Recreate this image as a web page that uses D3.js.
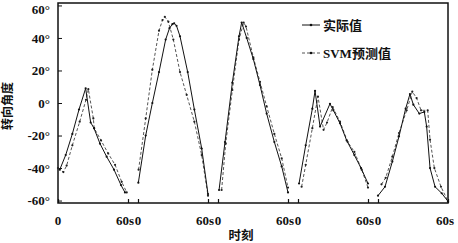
<!DOCTYPE html>
<html><head><meta charset="utf-8">
<script src="https://cdn.jsdelivr.net/npm/d3@7"></script>
<style>
body{margin:0;background:#fff;}
svg{display:block;}
.num{font-family:"Liberation Serif","Times New Roman",serif;font-weight:bold;font-size:13px;fill:#111;}
.cjk{font-family:"Liberation Serif","Noto Sans CJK SC",serif;font-weight:700;font-size:12.5px;fill:#111;}
</style></head>
<body>
<svg id="c" width="458" height="243"></svg>
<script>
// ---- data (time in s, angle in degrees) ----
const yTicks = [-60, -40, -20, 0, 20, 40, 60];
const segTicks = [0, 60];
const seriesNames = ["实际值", "SVM预测值"];

const actual1 = [[1.5,-41],[6.6,-32],[12.3,-19],[18,-4],[23.7,9],[28,-12],[30.9,-15.6],[36,-25],[41.7,-33],[48,-41],[54,-50.5],[57.4,-55]];
const pred1   = [[0,-40],[4.6,-42.5],[7.4,-38.5],[12.3,-26],[18.6,-11.5],[24,2],[26,8.5],[30.3,-9.5],[31,-15.5],[36.9,-23],[43,-31],[48.9,-38],[54.6,-48.5],[58.9,-55]];

const actual2 = [[0.3,-49],[6.6,-20],[12.3,0],[18,19],[23.7,39],[27,46],[29.5,48.5],[31,49],[33,47.5],[36,41],[42.6,19],[48.3,-4],[54.6,-28],[60,-56]];
const pred2   = [[0.5,-41],[6.6,-9.5],[12.3,20.5],[18,44.5],[21,51],[23,53],[26,50],[30.3,39],[36,19],[41.7,5],[48.3,-11.5],[54.6,-32],[60,-57]];

const actual3 = [[0.9,-53.5],[6,-24],[12.3,12.5],[18,41],[20.3,49.5],[24.6,40],[30.3,27],[36,11],[41.7,-6.5],[48.3,-24],[54.6,-39],[60,-55]];
const pred3   = [[3.1,-53.5],[6.6,-25],[12.3,8],[18,39],[22,49.5],[24,47],[30.3,28],[36,13],[41.7,-2],[48.3,-19],[54.6,-34],[60,-52]];

const actual4 = [[0.9,-49.5],[6.6,-26],[12.3,-3.5],[14.6,7.5],[18.9,-14.5],[27.4,-0.5],[30.3,-4.5],[36,-12.5],[41.7,-23],[48.3,-32],[54,-40],[60,-49.5]];
const pred4   = [[3.1,-51.5],[6.6,-38],[12.3,-15.5],[17.1,4],[21.9,-16.5],[24.9,-12],[29.7,-2.5],[36,-11.5],[42.6,-24],[48.3,-30],[54.6,-41],[60,-52]];

const actual5 = [[0,-57],[6,-51.5],[12.3,-36],[18,-20.5],[23.7,-3.5],[27.4,5.5],[30.3,-1],[35.4,-6.5],[39.7,-5.5],[41.7,-14.5],[44.6,-40],[48.9,-51.5],[54.6,-55.5],[60,-60.5]];
const pred5   = [[3,-50],[6.6,-46],[12.3,-33],[18,-18.5],[24.6,-4.5],[29.4,7],[33.1,3],[36.9,-4.5],[42.6,-4.5],[44.6,-22.5],[48.3,-40],[54,-51.5],[60,-60.5]];

const segments = [
  {actual: actual1, pred: pred1},
  {actual: actual2, pred: pred2},
  {actual: actual3, pred: pred3},
  {actual: actual4, pred: pred4},
  {actual: actual5, pred: pred5}
];

// ---- layout ----
const svg = d3.select("#c");
const L = 58, R = 448, T = 3, B = 203;
const segW = 70, gap = 10;

const y = d3.scaleLinear().domain([-61.5, 61.5]).range([B, T]);

// frame
svg.append("rect").attr("x", L).attr("y", T).attr("width", R - L).attr("height", B - T)
  .attr("fill", "none").attr("stroke", "#111").attr("stroke-width", 1.5);

// y axis
const yAxis = d3.axisLeft(y).tickValues(yTicks).tickSize(-4).tickPadding(8)
  .tickFormat(d => d + "°");
const gy = svg.append("g").attr("transform", `translate(${L},0)`).call(yAxis);
gy.select(".domain").remove();
gy.selectAll("line").attr("stroke", "#111").attr("stroke-width", 1);
gy.selectAll("text").attr("class", "num").attr("font-size", null).attr("font-family", null)
  .attr("dy", d => d === 60 ? "0.6em" : "0.32em");

// y title
svg.append("text").attr("class", "cjk")
  .attr("transform", `translate(12,${(T + B) / 2 + 3}) rotate(-90)`)
  .attr("text-anchor", "middle").style("font-size", "12px").text("转向角度");

const line = xs => d3.line().x(d => xs(d[0])).y(d => y(d[1]));

segments.forEach((s, i) => {
  const x0 = L + i * (segW + gap);
  const xs = d3.scaleLinear().domain([0, 60]).range([x0, x0 + segW]);

  const ax = d3.axisBottom(xs).tickValues(segTicks).tickSize(-4).tickFormat(() => "");
  const gx = svg.append("g").attr("transform", `translate(0,${B})`).call(ax);
  gx.select(".domain").remove();
  gx.selectAll("line").attr("stroke", "#111").attr("stroke-width", 1.2);

  svg.append("text").attr("class", "num").attr("x", xs(0)).attr("y", 225)
    .attr("text-anchor", "middle").text("0");
  svg.append("text").attr("class", "num").attr("x", xs(60) + 6).attr("y", 225)
    .attr("text-anchor", "end").text("60s");

  const g = svg.append("g");
  g.append("path").datum(s.pred).attr("d", line(xs)).attr("fill", "none")
    .attr("stroke", "#555").attr("stroke-width", 1).attr("stroke-dasharray", "3,2");
  g.append("path").datum(s.actual).attr("d", line(xs)).attr("fill", "none")
    .attr("stroke", "#111").attr("stroke-width", 1);
  g.selectAll(".pa").data(s.pred).join("circle").attr("cx", d => xs(d[0])).attr("cy", d => y(d[1]))
    .attr("r", 1.1).attr("fill", "#222");
  g.selectAll(".ac").data(s.actual).join("circle").attr("cx", d => xs(d[0])).attr("cy", d => y(d[1]))
    .attr("r", 1.1).attr("fill", "#111");
});

// x title
svg.append("text").attr("class", "cjk").attr("x", 241).attr("y", 240)
  .attr("text-anchor", "middle").text("时刻");

// legend
const leg = [{y: 25, dash: null, col: "#111"}, {y: 53, dash: "3,2", col: "#555"}];
leg.forEach((l, i) => {
  svg.append("line").attr("x1", 302).attr("x2", 320).attr("y1", l.y).attr("y2", l.y)
    .attr("stroke", l.col).attr("stroke-width", 1).attr("stroke-dasharray", l.dash);
  svg.append("circle").attr("cx", 311).attr("cy", l.y).attr("r", 1.3).attr("fill", "#111");
  svg.append("text").attr("class", "cjk").attr("x", 323).attr("y", l.y + 4.5)
    .style("font-size", "13px").text(seriesNames[i]);
});
</script>
</body></html>
